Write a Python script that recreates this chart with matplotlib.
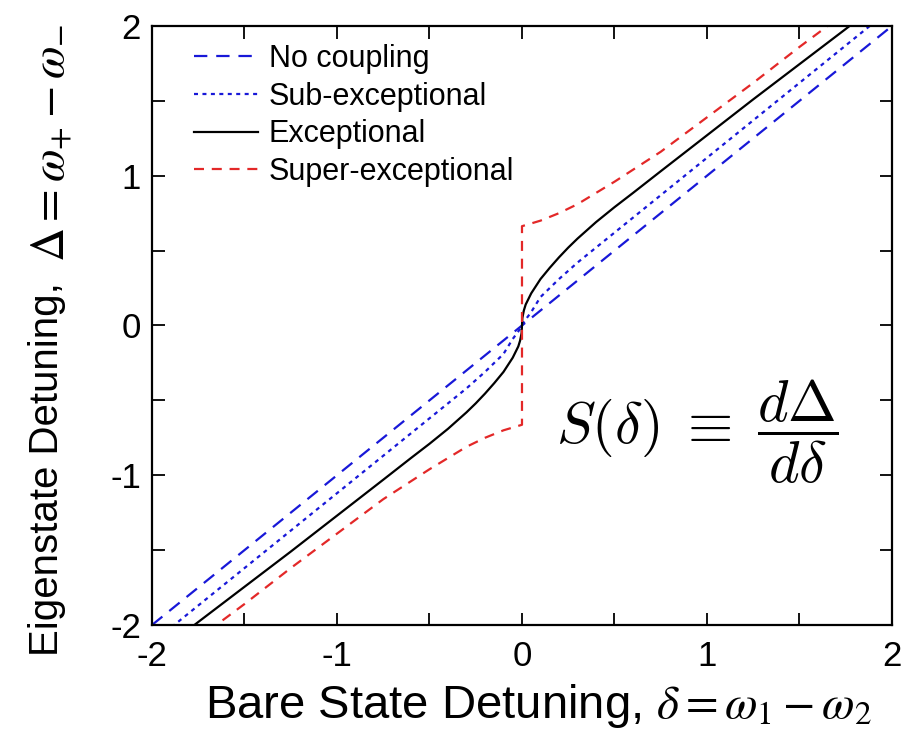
import numpy as np
import matplotlib
matplotlib.use("Agg")
import matplotlib.pyplot as plt
from matplotlib.ticker import MultipleLocator

# Bare-state detuning (positive half; curves are odd in delta)
delta_nc = [0.0, 2.0]
nc_pos = [0.0, 2.0]

delta_sub = [0.0, 0.02, 0.05, 0.1, 0.2, 0.3, 0.5, 0.75, 1.0, 1.5, 2.0]
sub_pos = [0.0, 0.04, 0.09, 0.19, 0.31, 0.42, 0.62, 0.87, 1.12, 1.62, 2.12]

delta_exc = [0.0, 0.002, 0.01, 0.02, 0.05, 0.1, 0.15, 0.2, 0.25, 0.3, 0.4, 0.5,
             0.6, 0.75, 1.0, 1.25, 1.5, 1.75, 2.0]
exc_pos = [0.0, 0.05, 0.10, 0.14, 0.215, 0.31, 0.385, 0.455, 0.52, 0.58, 0.69,
           0.79, 0.885, 1.03, 1.27, 1.51, 1.745, 1.98, 2.22]

delta_sup = [0.0, 0.1, 0.2, 0.3, 0.5, 0.75, 1.0, 1.25, 1.5, 1.75, 2.0]
sup_pos = [0.663, 0.70, 0.75, 0.81, 0.96, 1.16, 1.39, 1.62, 1.86, 2.09, 2.33]

labels = ["No coupling", "Sub-exceptional", "Exceptional", "Super-exceptional"]


def mirror(d, v, split=False):
    d = np.asarray(d, float)
    v = np.asarray(v, float)
    if split:
        # jump at delta = 0: keep both branches
        x = np.concatenate([-d[::-1], d])
        y = np.concatenate([-v[::-1], v])
    else:
        x = np.concatenate([-d[:0:-1], d])
        y = np.concatenate([-v[:0:-1], v])
    return x, y


plt.rcParams["font.family"] = ["Liberation Sans", "DejaVu Sans"]
plt.rcParams["mathtext.fontset"] = "stix"
plt.rcParams["axes.unicode_minus"] = False

fig = plt.figure(figsize=(9.14, 7.53), dpi=100)
ax = fig.add_axes([0.1663, 0.17, 0.8096, 0.7955])

lw = 1.6
blue = "#1818d8"
x, y = mirror(delta_nc, nc_pos)
ax.plot(x, y, color=blue, lw=lw, dashes=(6.0, 4.0), label=labels[0])
x, y = mirror(delta_sub, sub_pos)
ax.plot(x, y, color=blue, lw=lw, dashes=(1.8, 2.0), label=labels[1])
x, y = mirror(delta_exc, exc_pos)
ax.plot(x, y, color="black", lw=lw, label=labels[2])
x, y = mirror(delta_sup, sup_pos, split=True)
ax.plot(x, y, color="#e32828", lw=lw, dashes=(4.5, 3.5), label=labels[3])

ax.set_xlim(-2, 2)
ax.set_ylim(-2, 2)
for axis in (ax.xaxis, ax.yaxis):
    axis.set_major_locator(MultipleLocator(1))
    axis.set_minor_locator(MultipleLocator(0.5))
ax.tick_params(which="both", direction="in", top=True, right=True,
               length=9, width=1.3, labelsize=25)
ax.tick_params(axis="x", pad=11)
ax.tick_params(axis="y", pad=8)
for s in ax.spines.values():
    s.set_linewidth(1.6)

ax.set_xlabel(r"Bare State Detuning, $\delta = \omega_{\mathit{1}} - \omega_{\mathit{2}}$",
              fontsize=34)
ax.xaxis.set_label_coords(0.522, -0.095)
ax.xaxis.label.set_va("top")

# vertical axis title: words and symbols set separately
fig.text(47 / 914, 1 - 656 / 753, "Eigenstate Detuning,", rotation=90,
         ha="center", va="bottom", fontsize=29)
fig.text(52 / 914, 1 - 24 / 753, r"$\Delta = \omega_{+} - \omega_{-}$", rotation=90,
         ha="center", va="top", fontsize=34)

ax.text(0.737, 0.322, r"$S(\delta)\;\equiv\;\dfrac{d\Delta}{d\delta}$",
        transform=ax.transAxes, ha="center", va="center", fontsize=42,
        math_fontfamily="cm")

leg = ax.legend(loc="upper left", bbox_to_anchor=(0.04, 0.99), frameon=False,
                fontsize=22, handlelength=2.1, handletextpad=0.35,
                labelspacing=0.25, borderaxespad=0)

fig.savefig("out.png", dpi=100)
